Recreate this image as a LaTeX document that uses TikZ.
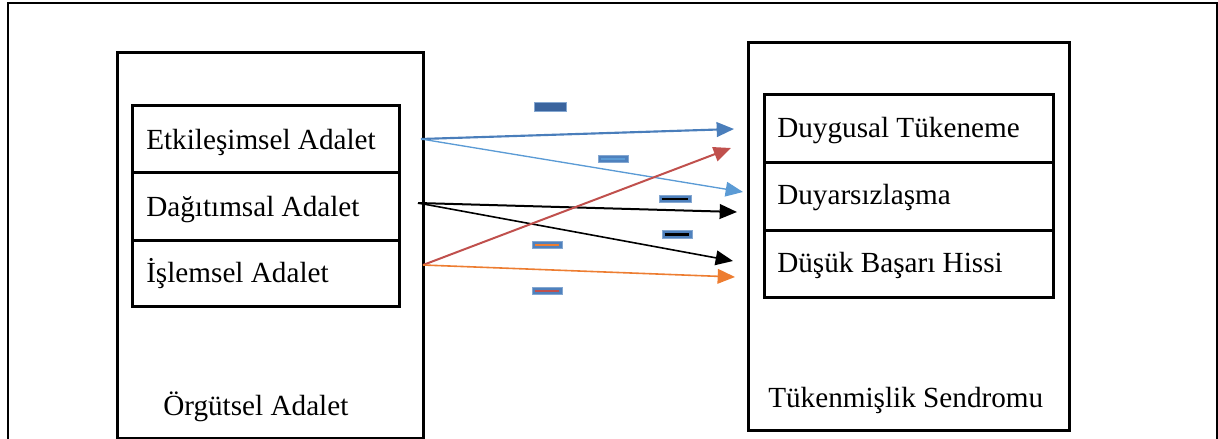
\documentclass[tikz,border=0pt]{standalone}
\usepackage{fontspec}
\setmainfont{Liberation Serif}
\usetikzlibrary{arrows.meta}
\definecolor{cblue}{HTML}{4A7EBB}
\definecolor{clblue}{HTML}{5B9BD5}
\definecolor{cred}{HTML}{C0504D}
\definecolor{corange}{HTML}{ED7D31}
\definecolor{cminus}{HTML}{4F81BD}
\definecolor{cminusd}{HTML}{3A649E}
\tikzset{
  box/.style={draw=black, line width=1.9pt, inner sep=0pt, anchor=north west},
  lbl/.style={anchor=base west, inner sep=0pt, font=\fontsize{21.9}{26}\selectfont},
  arr/.style={line width=1.5pt, -{Triangle[length=13pt,width=11pt]}, shorten >=0pt},
  minusbox/.style={fill=cminus, draw=cminus!70!white, line width=0.6pt, inner sep=0pt, minimum width=22.5pt, minimum height=5.6pt},
}
\begin{document}
\begin{tikzpicture}[x=0.75pt, y=-0.75pt]
\useasboundingbox (0,0) rectangle (1218,439);
% outer frame (open at bottom)
\draw[line width=1.3pt] (8,439) -- (8,3) -- (1217,3) -- (1217,439);
% left group
\node[box, minimum width=229.5pt, minimum height=289.5pt] (L) at (116,51) {};
\node[box, minimum width=200.25pt, minimum height=50.25pt] (L1) at (131,104) {};
\node[box, minimum width=200.25pt, minimum height=51pt] (L2) at (131,171) {};
\node[box, minimum width=200.25pt, minimum height=49.5pt] (L3) at (131,239) {};
\node[lbl] (t1) at (146,149) {Etkileşimsel Adalet};
\node[lbl] (t2) at (146,216) {Dağıtımsal Adalet};
\node[lbl] (t3) at (146,282) {İşlemsel Adalet};
\node[lbl] (t4) at (163,415) {Örgütsel Adalet};
% right group
\node[box, minimum width=240.75pt, minimum height=291pt] (R) at (747,41) {};
\node[box, minimum width=216.75pt, minimum height=51pt] (R1) at (763,93) {};
\node[box, minimum width=216.75pt, minimum height=51pt] (R2) at (763,161) {};
\node[box, minimum width=216.75pt, minimum height=50.25pt] (R3) at (763,229) {};
\node[lbl] (u1) at (777,137) {Duygusal Tükeneme};
\node[lbl] (u2) at (777,204) {Duyarsızlaşma};
\node[lbl] (u3) at (777,272) {Düşük Başarı Hissi};
\node[lbl] (u4) at (768,407) {Tükenmişlik Sendromu};
% connector endpoints
\coordinate (s1) at (421,139);
\coordinate (s2) at (418,203);
\coordinate (s3) at (423,265);
\coordinate (e1) at (734,129);
\coordinate (e2) at (743,192);
\coordinate (e3) at (731,148);
\coordinate (e4) at (737,212);
\coordinate (e5) at (733,261);
\coordinate (e6) at (735,277);
\draw[arr, draw=cblue, fill=cblue, line width=1.6pt] (s1) -- (e1);
\draw[arr, draw=clblue, fill=clblue, line width=1pt] (s1) -- (e2);
\draw[arr, draw=black, fill=black, line width=1.5pt] (s2) -- (e4);
\draw[arr, draw=black, fill=black, line width=1.2pt] (s2) -- (e5);
\draw[arr, draw=cred, fill=cred, line width=1.5pt] (s3) -- (e3);
\draw[arr, draw=corange, fill=corange, line width=1.2pt] (s3) -- (e6);
% minus signs
\node[minusbox, fill=cminusd, minimum width=24pt, minimum height=7pt] (m1) at (550,107) {};
\node[minusbox] (m2) at (613,159) {};
\draw[clblue, line width=2pt] ([xshift=2.2pt]m2.west) -- ([xshift=-2.2pt]m2.east);
\node[minusbox, minimum width=24pt] (m3) at (675,199) {};
\draw[black, line width=2pt] ([xshift=2.2pt]m3.west) -- ([xshift=-2.2pt]m3.east);
\node[minusbox] (m4) at (677,234.5) {};
\draw[black, line width=2pt] ([xshift=2.2pt]m4.west) -- ([xshift=-2.2pt]m4.east);
\node[minusbox] (m5) at (547,245) {};
\draw[corange, line width=2pt] ([xshift=2.2pt]m5.west) -- ([xshift=-2.2pt]m5.east);
\node[minusbox] (m6) at (547,291) {};
\draw[cred, line width=2pt] ([xshift=2.2pt]m6.west) -- ([xshift=-2.2pt]m6.east);
\end{tikzpicture}
\end{document}
